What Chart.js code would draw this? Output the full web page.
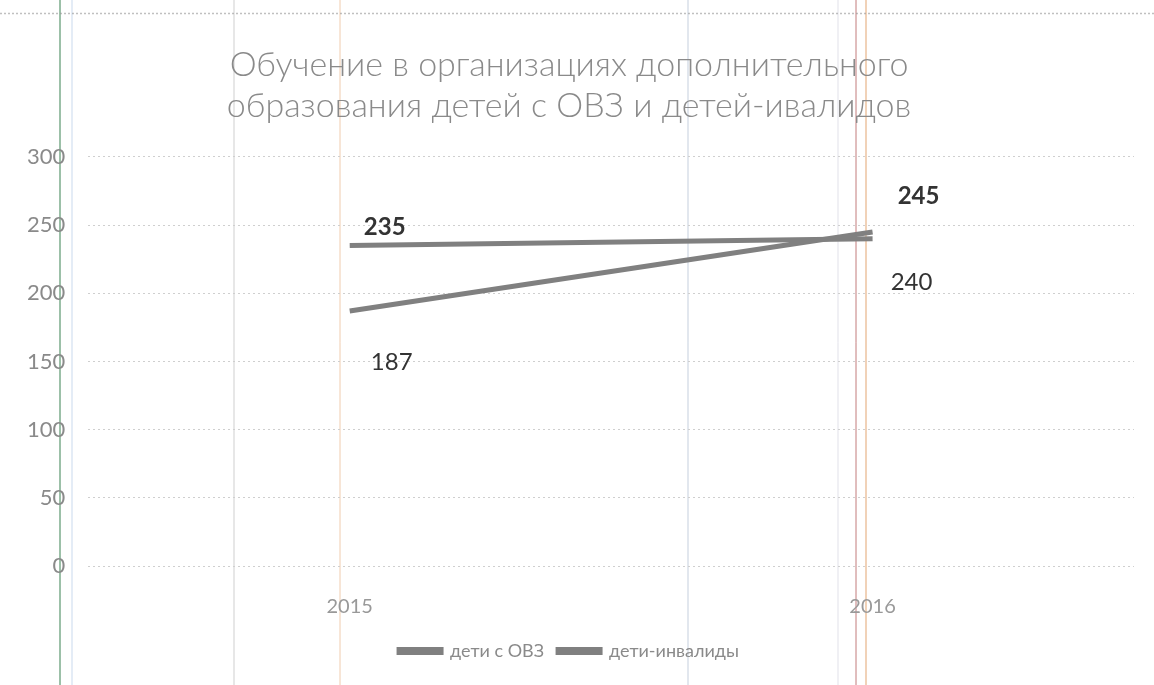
<!DOCTYPE html>
<html>
<head>
<meta charset="utf-8">
<script src="https://cdn.jsdelivr.net/npm/chart.js@4/dist/chart.umd.min.js"></script>
<style>
  html, body { margin: 0; padding: 0; background: #fff; }
  #wrap { width: 1154px; height: 685px; position: relative; }
</style>
</head>
<body>
<div id="wrap"><canvas id="chartObuchenie"></canvas></div>
<script>
const years = ['2015', '2016']
const detiOVZ = [235, 240]
const detiInvalidy = [187, 245]
const yTicks = [0, 50, 100, 150, 200, 250, 300]

// label offsets from the point, and weight, per series
const labelStyle = [
  [{dx: 35, dy: -18, bold: true}, {dx: 39, dy: 43, bold: false}],
  [{dx: 42, dy: 51, bold: false}, {dx: 46, dy: -36, bold: true}]
]

// faint vertical lines from the scanned page
const scanLines = [
  {x: 60, c: 'rgba(90,150,110,0.8)', w: 1.5},
  {x: 72, c: 'rgba(150,180,220,0.5)', w: 1},
  {x: 234, c: 'rgba(160,160,160,0.5)', w: 1},
  {x: 340, c: 'rgba(230,170,120,0.6)', w: 1},
  {x: 688, c: 'rgba(140,160,190,0.5)', w: 1},
  {x: 838, c: 'rgba(180,180,200,0.4)', w: 1},
  {x: 856, c: 'rgba(170,70,70,0.7)', w: 1},
  {x: 866, c: 'rgba(230,170,120,0.7)', w: 1.5}
]

const scanPlugin = {
  id: 'scan',
  beforeDraw(chart) {
    const ctx = chart.ctx
    ctx.save()
    for (var i = 0; i < scanLines.length; i++) {
      ctx.strokeStyle = scanLines[i].c
      ctx.lineWidth = scanLines[i].w
      ctx.beginPath()
      ctx.moveTo(scanLines[i].x, 0)
      ctx.lineTo(scanLines[i].x, chart.height)
      ctx.stroke()
    }
    // dotted page border near the top
    ctx.strokeStyle = 'rgba(150,150,150,0.6)'
    ctx.setLineDash([2, 2])
    ctx.beginPath()
    ctx.moveTo(0, 13.5)
    ctx.lineTo(chart.width, 13.5)
    ctx.stroke()
    ctx.restore()
  }
}

const labelsPlugin = {
  id: 'pointLabels',
  afterDatasetsDraw(chart) {
    const ctx = chart.ctx
    ctx.save()
    ctx.textAlign = 'center'
    ctx.textBaseline = 'middle'
    ctx.fillStyle = '#333'
    chart.data.datasets.forEach((ds, di) => {
      const meta = chart.getDatasetMeta(di)
      meta.data.forEach((pt, i) => {
        const s = labelStyle[di][i]
        ctx.font = (s.bold ? 'bold ' : '') + '24px Lato'
        ctx.fillText(String(ds.data[i]), pt.x + s.dx, pt.y + s.dy)
      })
    })
    ctx.restore()
  }
}

new Chart(document.getElementById('chartObuchenie'), {
  type: 'line',
  data: {
    labels: years,
    datasets: [{
      label: 'дети с ОВЗ',
      data: detiOVZ,
      borderColor: '#808080',
      backgroundColor: '#808080',
      borderWidth: 5,
      pointRadius: 0,
      tension: 0
    }, {
      label: 'дети-инвалиды',
      data: detiInvalidy,
      borderColor: '#808080',
      backgroundColor: '#808080',
      borderWidth: 5,
      pointRadius: 0,
      tension: 0
    }]
  },
  options: {
    responsive: true,
    maintainAspectRatio: false,
    animation: false,
    layout: {padding: {left: 4, right: 20, top: 44, bottom: 15}},
    plugins: {
      title: {
        display: true,
        text: ['Обучение в организациях дополнительного', 'образования детей с ОВЗ и детей-ивалидов'],
        color: '#8a8a8a',
        font: {family: 'Lato', size: 34, weight: 300, lineHeight: 1.22},
        padding: {top: 0, bottom: 30}
      },
      legend: {
        position: 'bottom',
        labels: {
          color: '#8a8a8a',
          font: {family: 'Lato', size: 18},
          boxWidth: 42,
          boxHeight: 3,
          padding: 14
        }
      },
      tooltip: {enabled: false}
    },
    scales: {
      x: {
        offset: true,
        grid: {display: false},
        border: {display: false},
        ticks: {color: '#999', font: {family: 'Lato', size: 20}, padding: 21},
        afterFit: (axis) => { axis.height = 62 }
      },
      y: {
        min: 0,
        max: 300,
        afterBuildTicks: (axis) => { axis.ticks = yTicks.map(v => ({value: v})) },
        grid: {color: '#cfcfcf', lineWidth: 1, drawTicks: false},
        border: {display: false, dash: [2, 3]},
        ticks: {color: '#8a8a8a', font: {family: 'Lato', size: 22}, padding: 23}
      }
    }
  },
  plugins: [scanPlugin, labelsPlugin]
})
</script>
</body>
</html>
